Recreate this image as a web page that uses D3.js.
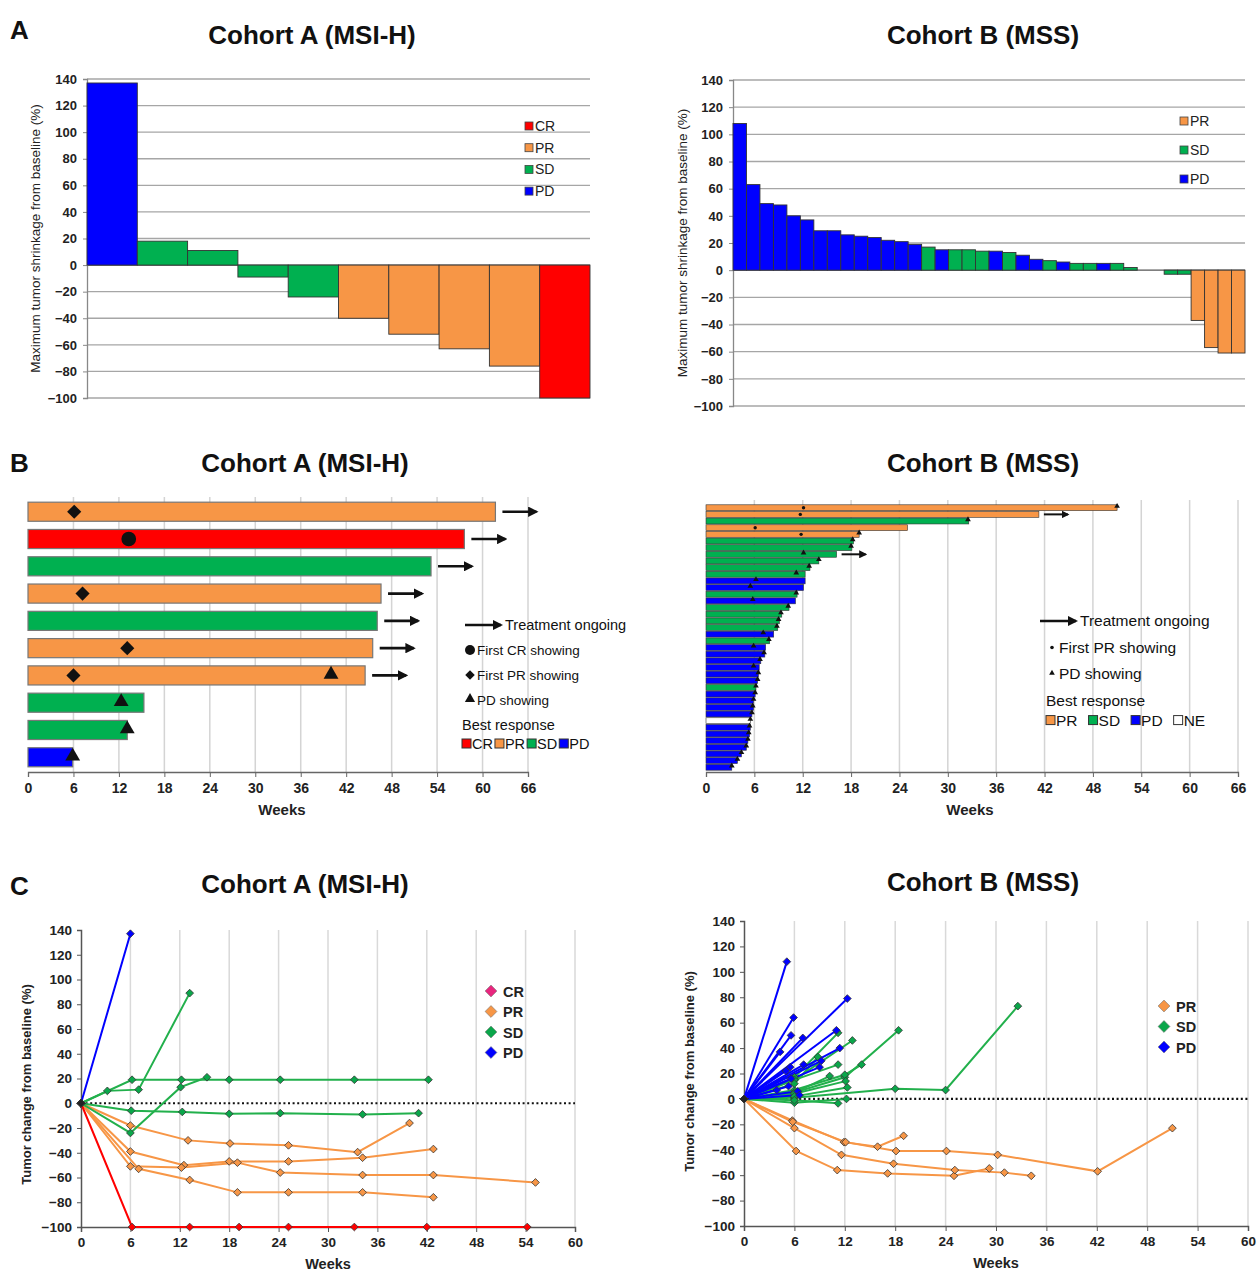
<!DOCTYPE html>
<html>
<head>
<meta charset="utf-8">
<script src="https://cdn.jsdelivr.net/npm/d3@7/dist/d3.min.js"></script>
<style>
  body { margin: 0; background: #fff; }
  svg { font-family: "Liberation Sans", Arial, sans-serif; }
</style>
</head>
<body>
<div class="container"></div>
<script>
/* ===== DATA ===== */
var respColors = {CR: '#ff0000', PR: '#f79646', SD: '#00b050', PD: '#0000ff', NE: '#ffffff'};

// A: waterfall, max change from baseline (%)
var aLeftValues = [137, 18, 11, -9, -24, -40, -52, -63, -76, -100];
var aLeftResp = ['PD', 'SD', 'SD', 'SD', 'SD', 'PR', 'PR', 'PR', 'PR', 'CR'];
var aRightValues = [108, 63, 49, 48, 40, 37, 29, 29, 26, 25, 24, 22, 21, 19, 17, 15, 15, 15, 14, 14,
                    13, 11, 8, 7, 6, 5, 5, 5, 5, 2, 0, 0, -3, -3, -37, -57, -61, -61];
var aRightResp = ['PD', 'PD', 'PD', 'PD', 'PD', 'PD', 'PD', 'PD', 'PD', 'PD', 'PD', 'PD', 'PD', 'PD',
                  'SD', 'PD', 'SD', 'SD', 'SD', 'PD', 'SD', 'PD', 'PD', 'SD', 'PD', 'SD', 'SD', 'PD', 'SD', 'SD',
                  'NE', 'NE', 'SD', 'SD', 'PR', 'PR', 'PR', 'PR'];
var aTicks = [-100, -80, -60, -40, -20, 0, 20, 40, 60, 80, 100, 120, 140];

// B: swimmer plots (weeks)
var weekTicksB = [0, 6, 12, 18, 24, 30, 36, 42, 48, 54, 60, 66];
var bLeftResp = ['PR', 'CR', 'SD', 'PR', 'SD', 'PR', 'PR', 'SD', 'SD', 'PD'];
var bLeftEnd = [61.7, 57.6, 53.2, 46.6, 46.1, 45.5, 44.5, 15.3, 13.1, 5.9];
var bLeftCR = [null, 13.3, null, null, null, null, null, null, null, null];
var bLeftPR = [6.1, null, null, 7.2, null, 13.1, 6.0, null, null, null];
var bLeftPD = [null, null, null, null, null, null, 40.0, 12.3, 13.1, 5.9];
var bLeftOngoing = [1, 1, 1, 1, 1, 1, 1, 0, 0, 0];

var bRightResp = ['PR', 'PR', 'SD', 'PR', 'PR', 'SD', 'SD', 'SD', 'SD', 'SD',
                  'SD', 'PD', 'PD', 'SD', 'PD', 'SD', 'SD', 'SD', 'SD', 'PD',
                  'SD', 'PD', 'PD', 'PD', 'PD', 'PD', 'PD', 'SD', 'PD', 'PD',
                  'PD', 'PD', 'NE', 'PD', 'PD', 'PD', 'PD', 'PD', 'PD', 'PD'];
var bRightEnd = [51.0, 41.3, 32.6, 25.0, 19.0, 18.3, 18.1, 16.2, 14.0, 12.9,
                 12.3, 12.3, 12.1, 11.3, 11.1, 10.3, 9.4, 9.1, 8.9, 8.4,
                 7.9, 7.4, 7.3, 6.8, 6.6, 6.5, 6.4, 6.2, 6.1, 5.9,
                 5.9, 5.7, 5.5, 5.5, 5.4, 5.2, 5.0, 4.4, 3.9, 3.2];
var bRightPR = [12.1, 11.7, null, 6.1, 11.8, null, null, null, null, null,
                null, null, null, null, null, null, null, null, null, null,
                null, null, null, null, null, null, null, null, null, null,
                null, null, null, null, null, null, null, null, null, null];
var bRightPD = [51.0, null, 32.5, null, 19.0, 18.2, 18.0, 12.1, 14.0, 12.8,
                11.2, 6.2, 5.5, 11.2, 5.8, 10.2, 9.3, 9.0, 8.8, 7.1,
                7.8, 5.9, 7.2, 6.7, 5.9, 6.5, 6.4, 6.2, 6.1, 5.9,
                5.8, 5.7, 5.5, 5.4, 5.3, 5.2, 5.0, 4.4, 3.9, 3.2];
var bRightOngoing = [0, 1, 0, 0, 0, 0, 0, 1, 0, 0, 0, 0, 0, 0, 0, 0, 0, 0, 0, 0,
                     0, 0, 0, 0, 0, 0, 0, 0, 0, 0, 0, 0, 0, 0, 0, 0, 0, 0, 0, 0];

// C: spider plots, [week, % change]
var weekTicksC = [0, 6, 12, 18, 24, 30, 36, 42, 48, 54, 60];
var cLeftCR = [
  [[0, 0], [6.2, -100], [13.2, -100], [19.2, -100], [25.2, -100], [33.2, -100], [42, -100], [54.2, -100]]
];
var cLeftPR = [
  [[0, 0], [6, -18], [13, -30], [18.1, -32.5], [25.2, -34], [33.6, -39.5], [39.9, -16]],
  [[0, 0], [6, -39], [12.5, -50], [18, -47], [25.2, -47], [34.2, -44], [42.8, -37]],
  [[0, 0], [6, -51], [12.2, -52], [19, -48], [24.2, -56], [34.2, -58], [42.8, -58], [55.2, -64]],
  [[0, 0], [7, -53], [13.2, -62], [19, -72], [25.2, -72], [34.2, -72], [42.8, -76]]
];
var cLeftSD = [
  [[0, 0], [3.2, 10], [7, 11], [13.2, 89]],
  [[0, 0], [6.2, 19], [12.2, 19], [18, 19], [24.2, 19], [33.2, 19], [42.2, 19]],
  [[0, 0], [6, -24], [12.1, 13], [15.3, 21]],
  [[0, 0], [6.1, -6], [12.3, -7], [18, -8.5], [24.2, -8], [34.2, -9], [41, -8]]
];
var cLeftPD = [
  [[0, 0], [6, 137]]
];

var cRightPR = [
  [[0, 0], [5.75, -17], [11.9, -34], [15.9, -37.6], [19, -29]],
  [[0, 0], [5.8, -18], [12.1, -34], [18.1, -41], [24.1, -41], [30.2, -44], [42.1, -57], [51, -23]],
  [[0, 0], [6.2, -41], [11.1, -56], [17.1, -58.6], [25, -60.5], [29.2, -54.7]],
  [[0, 0], [6, -23], [11.6, -44], [17.8, -51], [25.1, -56], [31, -58], [34.2, -60.5]]
];
var cRightSD = [
  [[0, 0], [6, 1], [18, 8], [24, 7], [32.6, 73]],
  [[0, 0], [6, 5], [12, 17], [18.4, 54]],
  [[0, 0], [6, 15], [12.9, 46]],
  [[0, 0], [6, 17], [11.2, 52]],
  [[0, 0], [6, 7], [12, 19], [14, 27]],
  [[0, 0], [6, 15], [11.2, 27]],
  [[0, 0], [6, 12], [8.8, 33]],
  [[0, 0], [6, 5], [10.2, 18]],
  [[0, 0], [6, 4], [12.1, 14]],
  [[0, 0], [6, 2], [12.3, 9]],
  [[0, 0], [6, -3], [12.2, 0]],
  [[0, 0], [6, -1], [11.2, -3.5]]
];
var cRightPD = [
  [[0, 0], [5.1, 108]], [[0, 0], [5.9, 64]], [[0, 0], [5.6, 50]], [[0, 0], [7.0, 48]],
  [[0, 0], [4.3, 37]], [[0, 0], [12.3, 79]], [[0, 0], [11.0, 54]], [[0, 0], [11.4, 40]],
  [[0, 0], [9.2, 30]], [[0, 0], [9.0, 25]], [[0, 0], [7.1, 27]], [[0, 0], [5.5, 25]],
  [[0, 0], [5.0, 22]], [[0, 0], [3.9, 7]], [[0, 0], [5.3, 10]], [[0, 0], [6.4, 6]],
  [[0, 0], [5.6, 16]], [[0, 0], [6.6, 3]]
];
var cTicks = [-100, -80, -60, -40, -20, 0, 20, 40, 60, 80, 100, 120, 140];

/* ===== SET UP ===== */
var svg = d3.select('.container').append('svg')
  .attr('width', 1258).attr('height', 1271);

svg.append('defs').append('marker')
  .attr('id', 'arrow').attr('viewBox', '0 0 10 10')
  .attr('refX', 8).attr('refY', 5)
  .attr('markerWidth', 4).attr('markerHeight', 4)
  .attr('orient', 'auto')
  .append('path').attr('d', 'M0,0 L10,5 L0,10 z').attr('fill', '#111');

// square diamond (rotated square), like the Excel marker
var squareDiamond = {
  draw: function(ctx, size) {
    var r = Math.sqrt(size / 2);
    ctx.moveTo(0, -r); ctx.lineTo(r, 0); ctx.lineTo(0, r); ctx.lineTo(-r, 0); ctx.closePath();
  }
};

function label(x, y, s, size, opts) {
  opts = opts || {};
  var t = svg.append('text')
    .attr('x', x).attr('y', y)
    .attr('font-size', size + 'px')
    .attr('font-weight', opts.bold ? 'bold' : 'normal')
    .attr('fill', opts.fill || '#111')
    .attr('text-anchor', opts.anchor || 'start')
    .text(s);
  if (opts.rotate) t.attr('transform', 'rotate(-90,' + x + ',' + y + ')');
  return t;
}

/* ===== PANEL LETTERS & TITLES ===== */
label(10, 39, 'A', 26, {bold: true});
label(10, 472, 'B', 26, {bold: true});
label(10, 895, 'C', 26, {bold: true});
[[312, 44], [305, 472], [305, 893]].forEach(function(p) {
  label(p[0], p[1], 'Cohort A (MSI-H)', 26, {bold: true, anchor: 'middle'});
});
[[983, 44], [983, 472], [983, 891]].forEach(function(p) {
  label(p[0], p[1], 'Cohort B (MSS)', 26, {bold: true, anchor: 'middle'});
});

/* ===== A: WATERFALL ===== */
function waterfall(values, resp, box, legendKeys, legend) {
  var x = d3.scaleBand().domain(d3.range(values.length)).range([box.x0, box.x1]);
  var y = d3.scaleLinear().domain([-100, 140]).range([box.y1, box.y0]);
  var g = svg.append('g');

  g.selectAll('line.grid').data(aTicks).join('line')
    .attr('x1', box.x0).attr('x2', box.x1)
    .attr('y1', function(d) { return y(d); }).attr('y2', function(d) { return y(d); })
    .attr('stroke', function(d) { return d === 0 ? '#555' : '#a6a6a6'; })
    .attr('stroke-width', 1.3);

  var ax = g.append('g')
    .attr('transform', 'translate(' + box.x0 + ',0)')
    .call(d3.axisLeft(y).tickValues(aTicks).tickSize(4).tickPadding(6));
  ax.select('.domain').attr('stroke', '#888').attr('stroke-width', 1.3);
  ax.selectAll('.tick line').attr('stroke', '#888');
  ax.selectAll('text').attr('font-size', '13px').attr('font-weight', 'bold')
    .attr('fill', '#222').attr('font-family', '"Liberation Sans", Arial, sans-serif');

  var rows = values.map(function(v, i) { return {v: v, r: resp[i], i: i}; })
    .filter(function(d) { return d.v !== 0; });
  g.selectAll('rect.bar').data(rows).join('rect')
    .attr('x', function(d) { return x(d.i); })
    .attr('width', x.bandwidth())
    .attr('y', function(d) { return y(Math.max(0, d.v)); })
    .attr('height', function(d) { return Math.abs(y(d.v) - y(0)); })
    .attr('fill', function(d) { return respColors[d.r]; })
    .attr('stroke', '#333').attr('stroke-width', 0.9);

  label(box.labelX, (box.y0 + box.y1) / 2, 'Maximum tumor shrinkage from baseline (%)', 13.5,
        {anchor: 'middle', rotate: true, fill: '#222'});

  legendKeys.forEach(function(k, i) {
    var ly = legend.y + i * legend.dy;
    g.append('rect').attr('x', legend.x).attr('y', ly - 4).attr('width', 8).attr('height', 8)
      .attr('fill', respColors[k]).attr('stroke', '#444').attr('stroke-width', 0.8);
    label(legend.x + 10, ly + 5, k, 14, {fill: '#222'});
  });
}

waterfall(aLeftValues, aLeftResp, {x0: 87, x1: 590, y0: 79, y1: 398, labelX: 40},
          ['CR', 'PR', 'SD', 'PD'], {x: 525, y: 126, dy: 21.7});
waterfall(aRightValues, aRightResp, {x0: 733, x1: 1245, y0: 80, y1: 406, labelX: 687},
          ['PR', 'SD', 'PD'], {x: 1180, y: 121, dy: 29});

/* ===== B: SWIMMER ===== */
function swimmer(p) {
  var x = d3.scaleLinear().domain([0, 66]).range([p.x0, p.x1]);
  var y = d3.scaleBand().domain(d3.range(p.ends.length)).range([p.y0, p.y1]).padding(p.pad);
  var g = svg.append('g');

  g.selectAll('line.grid').data(weekTicksB.slice(1)).join('line')
    .attr('x1', function(d) { return x(d); }).attr('x2', function(d) { return x(d); })
    .attr('y1', p.gridTop).attr('y2', p.axisY)
    .attr('stroke', '#d4d4d4').attr('stroke-width', 1.5);

  var ax = g.append('g')
    .attr('transform', 'translate(0,' + p.axisY + ')')
    .call(d3.axisBottom(x).tickValues(weekTicksB).tickSize(5).tickPadding(6));
  ax.select('.domain').attr('stroke', '#666').attr('stroke-width', 1.3);
  ax.selectAll('.tick line').attr('stroke', '#666');
  ax.selectAll('text').attr('font-size', '14px').attr('font-weight', 'bold')
    .attr('fill', '#222').attr('font-family', '"Liberation Sans Narrow", "Liberation Sans", sans-serif');
  label((p.x0 + p.x1) / 2 + p.weeksDx, p.axisY + 43, 'Weeks', 15, {bold: true, anchor: 'middle', fill: '#222'});

  var rows = p.ends.map(function(e, i) { return {e: e, i: i}; });
  g.selectAll('rect.bar').data(rows).join('rect')
    .attr('x', x(0)).attr('y', function(d) { return y(d.i); })
    .attr('width', function(d) { return x(d.e) - x(0); })
    .attr('height', y.bandwidth())
    .attr('fill', function(d) { return respColors[p.resp[d.i]]; })
    .attr('stroke', p.big ? '#777' : '#333').attr('stroke-width', p.big ? 1.2 : 0.6);

  var cy = function(i) { return y(i) + y.bandwidth() / 2; };

  // ongoing arrows
  rows.filter(function(d) { return p.ongoing[d.i]; }).forEach(function(d) {
    g.append('line')
      .attr('x1', x(d.e) + p.arrowGap).attr('x2', x(d.e) + p.arrowGap + p.arrowLen)
      .attr('y1', cy(d.i)).attr('y2', cy(d.i))
      .attr('stroke', '#111').attr('stroke-width', p.big ? 2.6 : 2)
      .attr('marker-end', 'url(#arrow)');
  });

  // response marks
  function marks(arr, type, size) {
    arr.forEach(function(w, i) {
      if (w === null) return;
      var yy = cy(i);
      if (type === d3.symbolTriangle) yy -= size > 40 ? 1 : 1.5;
      g.append('path')
        .attr('d', d3.symbol().type(type).size(size)())
        .attr('transform', 'translate(' + x(w) + ',' + yy + ')')
        .attr('fill', '#111');
    });
  }
  if (p.cr) marks(p.cr, d3.symbolCircle, p.big ? 170 : 10);
  marks(p.pr, p.big ? squareDiamond : d3.symbolCircle, p.big ? 100 : 9);
  marks(p.pd, d3.symbolTriangle, p.big ? 95 : 14);
}

swimmer({ends: bLeftEnd, resp: bLeftResp, cr: bLeftCR, pr: bLeftPR, pd: bLeftPD, ongoing: bLeftOngoing,
         x0: 28, x1: 528, y0: 494, y1: 775, pad: 0.3, gridTop: 497, axisY: 772,
         big: true, arrowGap: 7, arrowLen: 34, weeksDx: 4});
swimmer({ends: bRightEnd, resp: bRightResp, cr: null, pr: bRightPR, pd: bRightPD, ongoing: bRightOngoing,
         x0: 706, x1: 1238, y0: 504, y1: 771, pad: 0.12, gridTop: 500, axisY: 772,
         big: false, arrowGap: 5, arrowLen: 24, weeksDx: -2});

// B legends
function bLegend(lg, keys, showCR) {
  var fs = lg.fs;
  var sub = showCR ? 1 : 0;
  svg.append('line').attr('x1', lg.x).attr('x2', lg.x + lg.arrow).attr('y1', lg.y).attr('y2', lg.y)
    .attr('stroke', '#111').attr('stroke-width', 2.6).attr('marker-end', 'url(#arrow)');
  label(lg.x + lg.arrow + 4, lg.y + 5, 'Treatment  ongoing', fs, {fill: '#111'});
  var yy = lg.y + lg.dy;
  if (showCR) {
    svg.append('circle').attr('cx', lg.mx).attr('cy', yy).attr('r', 5).attr('fill', '#111');
    label(lg.mx + 7, yy + 5, 'First CR showing', fs - sub, {fill: '#111'});
    yy += lg.dy;
    svg.append('path').attr('d', d3.symbol().type(squareDiamond).size(45)())
      .attr('transform', 'translate(' + lg.mx + ',' + yy + ')').attr('fill', '#111');
  } else {
    svg.append('circle').attr('cx', lg.mx).attr('cy', yy).attr('r', 1.8).attr('fill', '#111');
  }
  label(lg.mx + 7, yy + 5, 'First PR showing', fs - sub, {fill: '#111'});
  yy += lg.dy;
  svg.append('path').attr('d', d3.symbol().type(d3.symbolTriangle).size(showCR ? 45 : 14)())
    .attr('transform', 'translate(' + lg.mx + ',' + (yy - 1) + ')').attr('fill', '#111');
  label(lg.mx + 7, yy + 5, 'PD showing', fs - sub, {fill: '#111'});
  yy += lg.dy;
  label(lg.bx, yy + 5, 'Best response', fs, {fill: '#111'});
  yy += lg.dy * 0.72;
  var xx = lg.bx;
  keys.forEach(function(k) {
    svg.append('rect').attr('x', xx).attr('y', yy - 4).attr('width', 9).attr('height', 9)
      .attr('fill', respColors[k]).attr('stroke', '#333').attr('stroke-width', 1);
    var t = label(xx + 10, yy + 6, k, fs, {fill: '#111'});
    xx += 10 + t.node().getComputedTextLength() + lg.gap;
  });
}
bLegend({x: 465, y: 625, arrow: 36, mx: 470, bx: 462, dy: 25, fs: 14.5, gap: 2}, ['CR', 'PR', 'SD', 'PD'], true);
bLegend({x: 1040, y: 621, arrow: 36, mx: 1052, bx: 1046, dy: 26.5, fs: 15.5, gap: 11}, ['PR', 'SD', 'PD', 'NE'], false);

/* ===== C: SPIDER ===== */
var spiderLine = {CR: '#ff0000', PR: '#f79646', SD: '#22b04c', PD: '#0000ff'};
var spiderFill = {CR: '#ff0000', PR: '#f79646', SD: '#0aa64a', PD: '#0000ff'};

function spider(groups, box, legendKeys, legend) {
  var x = d3.scaleLinear().domain([0, 60]).range([box.x0, box.x1]);
  var y = d3.scaleLinear().domain([-100, 140]).range([box.y1, box.y0]);
  var g = svg.append('g');

  g.selectAll('line.grid').data(weekTicksC.slice(1)).join('line')
    .attr('x1', function(d) { return x(d); }).attr('x2', function(d) { return x(d); })
    .attr('y1', y(140)).attr('y2', y(-100))
    .attr('stroke', '#d9d9d9').attr('stroke-width', 1.5);

  var ay = g.append('g').attr('transform', 'translate(' + box.x0 + ',0)')
    .call(d3.axisLeft(y).tickValues(cTicks).tickSize(4).tickPadding(5));
  var ax = g.append('g').attr('transform', 'translate(0,' + box.y1 + ')')
    .call(d3.axisBottom(x).tickValues(weekTicksC).tickSize(5).tickPadding(5));
  [ax, ay].forEach(function(a) {
    a.select('.domain').attr('stroke', '#555').attr('stroke-width', 1.5);
    a.selectAll('.tick line').attr('stroke', '#555');
    a.selectAll('text').attr('font-size', '13.5px').attr('font-weight', 'bold')
      .attr('fill', '#222').attr('font-family', '"Liberation Sans", Arial, sans-serif');
  });

  g.append('line').attr('x1', x(0)).attr('x2', x(60)).attr('y1', y(0)).attr('y2', y(0))
    .attr('stroke', '#111').attr('stroke-width', 2.2).attr('stroke-dasharray', '2,2.6');

  var line = d3.line().x(function(d) { return x(d[0]); }).y(function(d) { return y(d[1]); });
  var diamond = d3.symbol().type(squareDiamond).size(30)();

  groups.forEach(function(grp) {
    grp.lines.forEach(function(pts) {
      g.append('path').datum(pts).attr('d', line)
        .attr('fill', 'none').attr('stroke', spiderLine[grp.resp]).attr('stroke-width', 2);
    });
  });
  groups.forEach(function(grp) {
    grp.lines.forEach(function(pts) {
      g.selectAll(null).data(pts).join('path')
        .attr('d', diamond)
        .attr('transform', function(d) { return 'translate(' + x(d[0]) + ',' + y(d[1]) + ')'; })
        .attr('fill', function(d) { return d[0] === 0 ? '#222' : spiderFill[grp.resp]; })
        .attr('stroke', '#333').attr('stroke-width', 0.8);
    });
  });

  label(box.labelX, (box.y0 + box.y1) / 2 + box.labelDy, 'Tumor change from baseline (%)', 13,
        {anchor: 'middle', rotate: true, fill: '#222', bold: true});
  label((box.x0 + box.x1) / 2, box.y1 + 42, 'Weeks', 14.5, {anchor: 'middle', bold: true, fill: '#222'});

  legendKeys.forEach(function(k, i) {
    var ly = legend.y + i * legend.dy;
    g.append('path').attr('d', d3.symbol().type(squareDiamond).size(70)())
      .attr('transform', 'translate(' + legend.x + ',' + ly + ')')
      .attr('fill', k === 'CR' ? '#e8267e' : spiderFill[k]).attr('stroke', '#777').attr('stroke-width', 0.6);
    label(legend.x + 12, ly + 5.5, k, 14.5, {fill: '#222', bold: true});
  });
}

spider([{resp: 'PR', lines: cLeftPR}, {resp: 'SD', lines: cLeftSD}, {resp: 'CR', lines: cLeftCR}, {resp: 'PD', lines: cLeftPD}],
       {x0: 81, x1: 575, y0: 930, y1: 1227, labelX: 31, labelDy: 6}, ['CR', 'PR', 'SD', 'PD'], {x: 491, y: 991, dy: 20.5});
spider([{resp: 'PR', lines: cRightPR}, {resp: 'SD', lines: cRightSD}, {resp: 'PD', lines: cRightPD}],
       {x0: 744, x1: 1248, y0: 921, y1: 1226, labelX: 694, labelDy: -2}, ['PR', 'SD', 'PD'], {x: 1164, y: 1006, dy: 20.5});
</script>
</body>
</html>
